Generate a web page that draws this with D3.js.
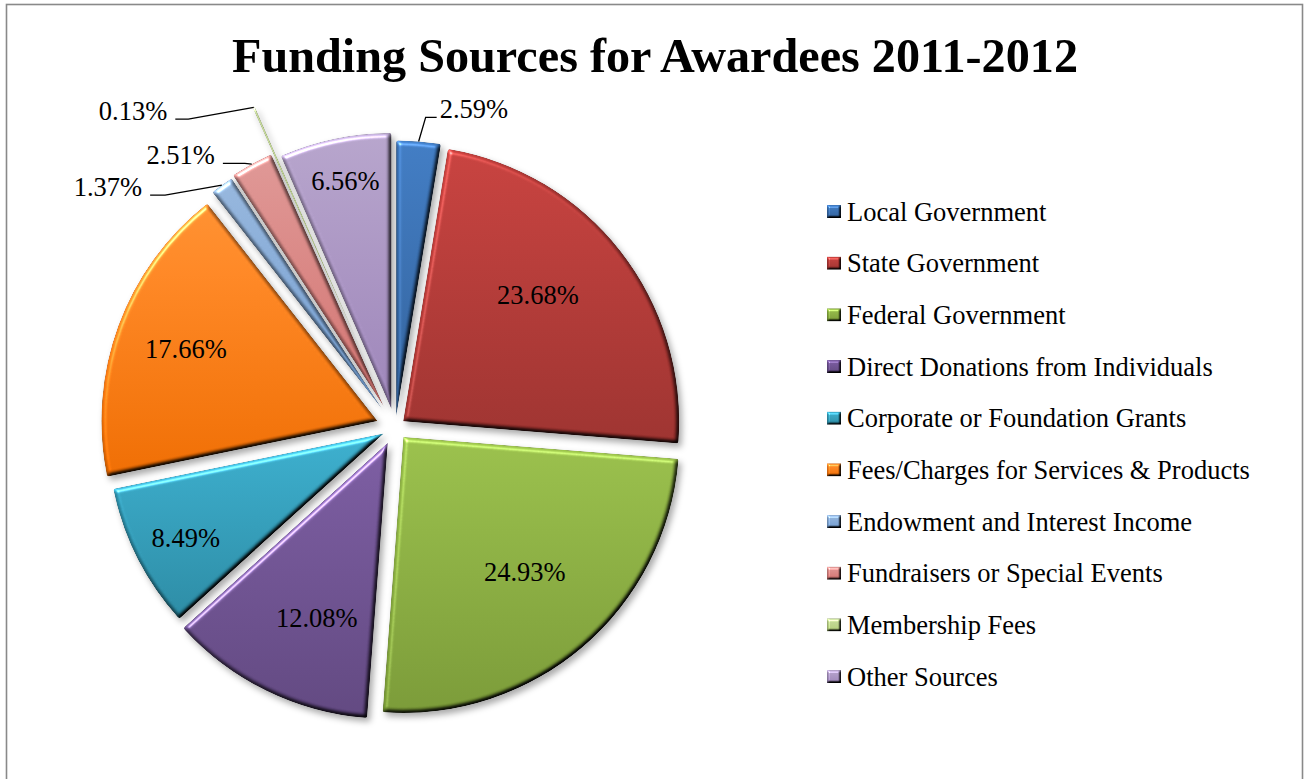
<!DOCTYPE html>
<html>
<head>
<meta charset="utf-8">
<script src="https://cdn.jsdelivr.net/npm/d3@7/dist/d3.min.js"></script>
<style>
  html, body { margin: 0; padding: 0; background: #ffffff; }
  svg { display: block; }
  text { font-family: "Liberation Serif", "Times New Roman", serif; }
</style>
</head>
<body>
<svg id="chart" width="1304" height="779"></svg>
<script>
// ---- data ----
const categories = [
  "Local Government",
  "State Government",
  "Federal Government",
  "Direct Donations from Individuals",
  "Corporate or Foundation Grants",
  "Fees/Charges for Services & Products",
  "Endowment and Interest Income",
  "Fundraisers or Special Events",
  "Membership Fees",
  "Other Sources"
];
const shares = [2.59, 23.68, 24.93, 12.08, 8.49, 17.66, 1.37, 2.51, 0.13, 6.56];
const sliceColors = ["#4F81BD", "#C0504D", "#9BBB59", "#8064A2", "#4BACC6",
                     "#F79646", "#95B3D7", "#D99694", "#C3D69B", "#B3A2C7"];

const titleText = "Funding Sources for Awardees 2011-2012";

// ---- layout ----
const W = 1304, H = 779;
const cx = 395.3, cy = 427.5, R = 276;

// how far each slice is pulled away from the centre (px)
const explode = {
  "Local Government": 11, "State Government": 10, "Federal Government": 12.5,
  "Direct Donations from Individuals": 17, "Corporate or Foundation Grants": 13,
  "Fees/Charges for Services & Products": 19, "Endowment and Interest Income": 22,
  "Fundraisers or Special Events": 24, "Membership Fees": 74, "Other Sources": 19
};
// labels drawn inside a slice: [fraction of radius from the slice tip, angle shift in degrees]
const insideLabel = {
  "State Government": [0.669, -5.1],
  "Federal Government": [0.658, -1.4],
  "Direct Donations from Individuals": [0.685, -4],
  "Corporate or Foundation Grants": [0.812, -1.1],
  "Fees/Charges for Services & Products": [0.741, 0.4],
  "Other Sources": [0.842, 0.4]
};
// labels outside with a leader: elbow as multiples of R from the centre, horizontal arm length
const outsideLabel = {
  "Local Government": { ex: 0.110, ey: -1.124, arm: 11 },
  "Endowment and Interest Income": { ex: -0.834, ey: -0.842, arm: -15 },
  "Fundraisers or Special Events": { ex: -0.545, ey: -0.957, arm: -22 },
  "Membership Fees": { ex: -0.750, ey: -1.117, arm: -13 }
};

const data = categories.map((c, i) => ({ name: c, value: shares[i] }));
const color = d3.scaleOrdinal().domain(categories).range(sliceColors);
const fmt = v => d3.format(".2f")(v) + "%";

const svg = d3.select("#chart");
const defs = svg.append("defs");

// ---- bevel + shadow filter (region in the element's own, translated space) ----
function bevelFilter(id, blur, scale, shadow) {
  const f = defs.append("filter").attr("id", id)
    .attr("filterUnits", "userSpaceOnUse")
    .attr("x", -1400).attr("y", -1000).attr("width", 2800).attr("height", 2000)
    .attr("color-interpolation-filters", "sRGB");
  f.append("feGaussianBlur").attr("in", "SourceAlpha").attr("stdDeviation", blur).attr("result", "b");
  const dl = f.append("feDiffuseLighting").attr("in", "b").attr("surfaceScale", scale)
    .attr("diffuseConstant", 1).attr("lighting-color", "#ffffff").attr("result", "diff");
  dl.append("feDistantLight").attr("azimuth", 235).attr("elevation", 55);
  f.append("feComposite").attr("in", "SourceGraphic").attr("in2", "diff")
    .attr("operator", "arithmetic").attr("k1", 1 / Math.sin(55 * Math.PI / 180))
    .attr("k2", 0).attr("k3", 0).attr("k4", 0).attr("result", "shaded");
  const sl = f.append("feSpecularLighting").attr("in", "b").attr("surfaceScale", scale)
    .attr("specularConstant", 0.5).attr("specularExponent", 22)
    .attr("lighting-color", "#ffffff").attr("result", "spec");
  sl.append("feDistantLight").attr("azimuth", 235).attr("elevation", 30);
  f.append("feComposite").attr("in", "spec").attr("in2", "SourceAlpha").attr("operator", "in").attr("result", "specIn");
  f.append("feComposite").attr("in", "shaded").attr("in2", "SourceAlpha").attr("operator", "in").attr("result", "shadedIn");
  f.append("feComposite").attr("in", "shadedIn").attr("in2", "specIn")
    .attr("operator", "arithmetic").attr("k1", 0).attr("k2", 1).attr("k3", 1).attr("k4", 0).attr("result", "lit");
  const merge = [];
  if (shadow) {
    f.append("feGaussianBlur").attr("in", "SourceAlpha").attr("stdDeviation", shadow.blur).attr("result", "sb");
    f.append("feOffset").attr("in", "sb").attr("dx", shadow.dx).attr("dy", shadow.dy).attr("result", "so");
    f.append("feFlood").attr("flood-color", "#000").attr("flood-opacity", shadow.opacity).attr("result", "sc");
    f.append("feComposite").attr("in", "sc").attr("in2", "so").attr("operator", "in").attr("result", "shadow");
    merge.push("shadow");
  }
  merge.push("lit");
  const m = f.append("feMerge");
  merge.forEach(n => m.append("feMergeNode").attr("in", n));
}
bevelFilter("sliceBevel", 2.2, 4, { blur: 3, dx: 3, dy: 4, opacity: 0.33 });
bevelFilter("keyBevel", 1.1, 3, null);

// vertical shading for each colour: full tones get richer and deeper toward the bottom,
// pale tints only darken a little
function shade(hex, sat, light) {
  const c = d3.hsl(hex);
  c.s = Math.min(1, c.s * sat);
  c.l = c.l * light;
  return c.formatHex();
}
categories.forEach((c, i) => {
  const base = color(c);
  const pale = d3.hsl(base).l > 0.65;
  const g = defs.append("linearGradient").attr("id", "grad" + i)
    .attr("x1", 0).attr("y1", 0).attr("x2", 0).attr("y2", 1);
  g.append("stop").attr("offset", "0%")
    .attr("stop-color", pale ? shade(base, 1.05, 1.0) : shade(base, 1.12, 0.95));
  g.append("stop").attr("offset", "100%")
    .attr("stop-color", pale ? shade(base, 1.05, 0.86) : shade(base, 1.15, 0.74));
});

// ---- frame ----
svg.append("rect")
  .attr("x", 6.5).attr("y", 4.5).attr("width", 1296).attr("height", 820)
  .attr("fill", "#ffffff").attr("stroke", "#898989").attr("stroke-width", 1.6);

// ---- title ----
svg.append("text")
  .attr("x", 655).attr("y", 72)
  .attr("text-anchor", "middle")
  .attr("font-size", 48.2).attr("font-weight", "bold").attr("fill", "#000")
  .text(titleText);

// ---- pie ----
const pie = d3.pie().sort(null).value(d => d.value).startAngle(0).endAngle(2 * Math.PI);
const arcs = pie(data);
const arc = d3.arc().innerRadius(0).outerRadius(R).cornerRadius(2);
const unit = a => [Math.sin(a), -Math.cos(a)];

arcs.forEach(a => {
  a.mid = (a.startAngle + a.endAngle) / 2;
  const u = unit(a.mid);
  const e = explode[a.data.name] || 0;
  a.tip = [cx + e * u[0], cy + e * u[1]];
  a.outer = [a.tip[0] + R * u[0], a.tip[1] + R * u[1]];
});

const slices = svg.append("g").attr("class", "slices");
slices.selectAll("path")
  .data(arcs)
  .join("path")
  .attr("transform", d => `translate(${d.tip[0]},${d.tip[1]})`)
  .attr("d", arc)
  .attr("fill", d => `url(#grad${categories.indexOf(d.data.name)})`)
  .attr("filter", "url(#sliceBevel)");

// ---- value labels inside slices ----
const labelsG = svg.append("g").attr("class", "labels");
arcs.filter(d => insideLabel[d.data.name]).forEach(d => {
  const [f, shift] = insideLabel[d.data.name];
  const ang = d.mid + shift * Math.PI / 180;
  const u = unit(ang);
  labelsG.append("text")
    .attr("x", d.tip[0] + f * R * u[0])
    .attr("y", d.tip[1] + f * R * u[1])
    .attr("dy", "0.33em")
    .attr("text-anchor", "middle")
    .attr("font-size", 26.5).attr("fill", "#000")
    .text(fmt(d.data.value));
});

// ---- value labels outside with leader lines ----
arcs.filter(d => outsideLabel[d.data.name]).forEach(d => {
  const o = outsideLabel[d.data.name];
  const elbow = [cx + o.ex * R, cy + o.ey * R];
  const end = [elbow[0] + o.arm, elbow[1]];
  labelsG.append("path")
    .attr("d", d3.line()([end, elbow, d.outer]))
    .attr("fill", "none").attr("stroke", "#000").attr("stroke-width", 1.3);
  const right = o.arm > 0;
  labelsG.append("text")
    .attr("x", right ? end[0] + 3 : end[0] - 8)
    .attr("y", end[1] + 1)
    .attr("text-anchor", right ? "start" : "end")
    .attr("font-size", 26.5).attr("fill", "#000")
    .text(fmt(d.data.value));
});

// ---- legend ----
const legendY = d3.scalePoint().domain(categories).range([211.5, 676.5]);
const legend = svg.append("g").attr("class", "legend");
const rows = legend.selectAll("g").data(categories).join("g")
  .attr("transform", c => `translate(0,${legendY(c)})`);
rows.append("rect")
  .attr("x", 827).attr("y", -6.5).attr("width", 14).attr("height", 13)
  .attr("fill", (c, i) => `url(#grad${i})`)
  .attr("filter", "url(#keyBevel)");
rows.append("text")
  .attr("x", 847).attr("y", 9)
  .attr("font-size", 26.5).attr("fill", "#000")
  .text(c => c);
</script>
</body>
</html>
